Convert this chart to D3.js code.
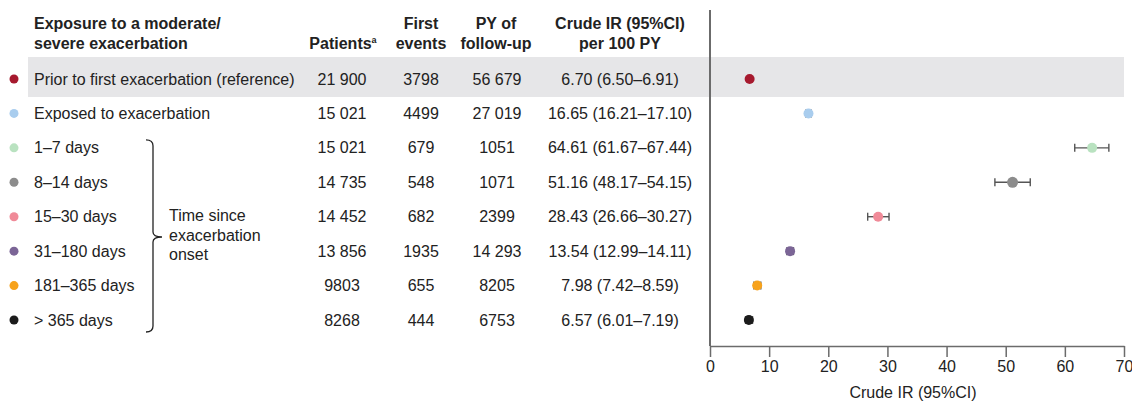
<!DOCTYPE html>
<html>
<head>
<meta charset="utf-8">
<script src="https://cdn.jsdelivr.net/npm/d3@7"></script>
<style>
  html, body { margin: 0; padding: 0; background: #fff; }
  svg { display: block; font-family: "Liberation Sans", Arial, sans-serif; }
</style>
</head>
<body>
<svg id="chart" width="1132" height="403"></svg>
<script>
// Rows of the forest plot
const labels = [
  "Prior to first exacerbation (reference)",
  "Exposed to exacerbation",
  "1\u20137 days",
  "8\u201314 days",
  "15\u201330 days",
  "31\u2013180 days",
  "181\u2013365 days",
  "> 365 days"
];
const dotColors = ["#a6192e", "#a9cdee", "#b9e2c0", "#8c8c8c", "#f08a98", "#7b6596", "#f7a21b", "#1b1b1b"];
const patients = [21900, 15021, 15021, 14735, 14452, 13856, 9803, 8268];
const firstEvents = [3798, 4499, 679, 548, 682, 1935, 655, 444];
const pyFollowUp = [56679, 27019, 1051, 1071, 2399, 14293, 8205, 6753];
const crudeIR = [6.70, 16.65, 64.61, 51.16, 28.43, 13.54, 7.98, 6.57];
const ciLow = [6.50, 16.21, 61.67, 48.17, 26.66, 12.99, 7.42, 6.01];
const ciHigh = [6.91, 17.10, 67.44, 54.15, 30.27, 14.11, 8.59, 7.19];
const xTicks = [0, 10, 20, 30, 40, 50, 60, 70];

const svg = d3.select("#chart");
const textColor = "#222";
const fs = 16;

// numbers of five digits or more get a space as thousands separator
const fmtCount = v => v >= 10000 ? d3.format(",")(v).replace(/,/g, " ") : String(v);
const fmt2 = d3.format(".2f");

const rowIdx = d3.range(labels.length);
const y = d3.scaleLinear().domain([0, 7]).range([79, 320]);
const x = d3.scaleLinear().domain([0, 70]).range([710, 1124]);

// reference row highlight
svg.append("rect")
  .attr("x", 28).attr("y", y(0) - 22)
  .attr("width", x(70) - 28).attr("height", 40)
  .attr("fill", "#e6e6e8");

// header
const header = svg.append("g").attr("font-weight", "bold").attr("font-size", fs).attr("fill", textColor);
header.append("text").attr("x", 34).attr("y", 29).text("Exposure to a moderate/");
header.append("text").attr("x", 34).attr("y", 49).text("severe exacerbation");
const pat = header.append("text").attr("x", 343).attr("y", 49).attr("text-anchor", "middle");
pat.append("tspan").text("Patients");
pat.append("tspan").attr("font-size", 9).attr("dy", -6).text("a");
const colHeads = [
  {cx: 421, l1: "First", l2: "events"},
  {cx: 496, l1: "PY of", l2: "follow-up"},
  {cx: 620, l1: "Crude IR (95%CI)", l2: "per 100 PY"}
];
colHeads.forEach(h => {
  header.append("text").attr("x", h.cx).attr("y", 29).attr("text-anchor", "middle").text(h.l1);
  header.append("text").attr("x", h.cx).attr("y", 49).attr("text-anchor", "middle").text(h.l2);
});

// table body
const body = svg.append("g").attr("font-size", fs).attr("fill", textColor);
const rows = body.selectAll("g.row").data(rowIdx).join("g")
  .attr("class", "row")
  .attr("transform", i => `translate(0,${y(i)})`);

rows.append("circle").attr("cx", 14).attr("cy", 0).attr("r", 4.5).attr("fill", i => dotColors[i]);
rows.append("text").attr("x", 34).attr("dy", "0.35em").text(i => labels[i]);
rows.append("text").attr("x", 342).attr("dy", "0.35em").attr("text-anchor", "middle").text(i => fmtCount(patients[i]));
rows.append("text").attr("x", 421).attr("dy", "0.35em").attr("text-anchor", "middle").text(i => fmtCount(firstEvents[i]));
rows.append("text").attr("x", 497).attr("dy", "0.35em").attr("text-anchor", "middle").text(i => fmtCount(pyFollowUp[i]));
rows.append("text").attr("x", 620).attr("dy", "0.35em").attr("text-anchor", "middle")
  .text(i => `${fmt2(crudeIR[i])} (${fmt2(ciLow[i])}\u2013${fmt2(ciHigh[i])})`);

// brace grouping the time-since-onset rows
const bTop = y(2) - 8, bBot = y(7) + 12, bMid = 237;
const bx = 153;
svg.append("path")
  .attr("d", `M${bx - 7},${bTop} Q${bx},${bTop} ${bx},${bTop + 6} L${bx},${bMid - 5} Q${bx},${bMid} ${bx + 9},${bMid}` +
             ` Q${bx},${bMid} ${bx},${bMid + 5} L${bx},${bBot - 6} Q${bx},${bBot} ${bx - 7},${bBot}`)
  .attr("fill", "none").attr("stroke", "#222").attr("stroke-width", 1.3);
const brLabel = svg.append("text").attr("font-size", fs).attr("fill", textColor);
["Time since", "exacerbation", "onset"].forEach((t, k) => {
  brLabel.append("tspan").attr("x", 169).attr("y", 221 + k * 19.5).text(t);
});

// plot panel: left rule and x axis
svg.append("line")
  .attr("x1", x(0)).attr("x2", x(0)).attr("y1", 10).attr("y2", 346)
  .attr("stroke", "#6b6b6b").attr("stroke-width", 2);

const axis = svg.append("g")
  .attr("transform", "translate(0,346)")
  .call(d3.axisBottom(x).tickValues(xTicks).tickSize(11).tickSizeOuter(0).tickPadding(4));
axis.select(".domain").attr("stroke", "#6b6b6b").attr("stroke-width", 1.5);
axis.selectAll(".tick line").attr("stroke", "#6b6b6b").attr("stroke-width", 1.5);
axis.selectAll(".tick text").attr("font-size", fs).attr("fill", textColor)
  .attr("font-family", "'Liberation Sans', Arial, sans-serif");

svg.append("text")
  .attr("x", (x(0) + x(70)) / 2 - 4).attr("y", 398)
  .attr("text-anchor", "middle").attr("font-size", fs).attr("fill", textColor)
  .text("Crude IR (95%CI)");

// confidence intervals and point estimates
const marks = svg.append("g");
const ci = marks.selectAll("g.ci").data(rowIdx).join("g").attr("class", "ci")
  .attr("stroke", "#555").attr("stroke-width", 1.4);
ci.append("line")
  .attr("x1", i => x(ciLow[i])).attr("x2", i => x(ciHigh[i]))
  .attr("y1", i => y(i)).attr("y2", i => y(i));
ci.append("line")
  .attr("x1", i => x(ciLow[i])).attr("x2", i => x(ciLow[i]))
  .attr("y1", i => y(i) - 4).attr("y2", i => y(i) + 4);
ci.append("line")
  .attr("x1", i => x(ciHigh[i])).attr("x2", i => x(ciHigh[i]))
  .attr("y1", i => y(i) - 4).attr("y2", i => y(i) + 4);

marks.selectAll("circle").data(rowIdx).join("circle")
  .attr("cx", i => x(crudeIR[i])).attr("cy", i => y(i))
  .attr("r", i => i === 3 ? 5.5 : 5)
  .attr("fill", i => dotColors[i]);
</script>
</body>
</html>
